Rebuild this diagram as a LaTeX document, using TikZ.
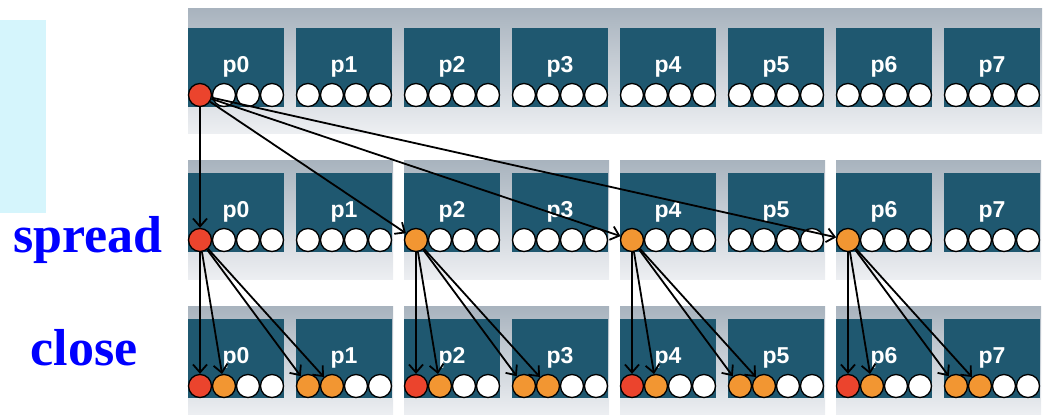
\documentclass[tikz,border=0pt]{standalone}
\usepackage{fontspec}
\setmainfont{Liberation Serif}
\newfontfamily\placefont{Liberation Sans}
\usetikzlibrary{arrows.meta}
\definecolor{corebox}{RGB}{31,88,112}
\definecolor{bandtop}{RGB}{168,179,190}
\definecolor{bandbot}{RGB}{237,239,242}
\definecolor{thrred}{RGB}{235,68,45}
\definecolor{throrange}{RGB}{242,150,50}
\definecolor{panelcyan}{RGB}{213,245,252}
\definecolor{policyblue}{RGB}{0,0,255}

\tikzset{
  band/.style={top color=bandtop, bottom color=bandbot},
  slot/.style={circle, draw=black, line width=1.3pt, fill=white,
    minimum size=23pt, inner sep=0pt},
  placelabel/.style={text=white, anchor=base,
    font=\placefont\bfseries\fontsize{23}{23}\selectfont},
  policy/.style={text=policyblue, anchor=base, inner sep=0pt,
    font=\bfseries\fontsize{52}{52}\selectfont},
  bind/.style={-{Straight Barb[length=8pt,width=14pt]}, line width=1.8pt},
  % master thread (red) and the threads it places (orange)
  master/.style={fill=thrred},
  worker/.style={fill=throrange},
  s1-0-0/.style={master},
  s2-0-0/.style={master}, s2-2-0/.style={worker},
  s2-4-0/.style={worker}, s2-6-0/.style={worker},
  s3-0-0/.style={master}, s3-2-0/.style={master},
  s3-4-0/.style={master}, s3-6-0/.style={master},
  s3-0-1/.style={worker}, s3-2-1/.style={worker},
  s3-4-1/.style={worker}, s3-6-1/.style={worker},
  s3-1-0/.style={worker}, s3-3-0/.style={worker},
  s3-5-0/.style={worker}, s3-7-0/.style={worker},
  s3-1-1/.style={worker}, s3-3-1/.style={worker},
  s3-5-1/.style={worker}, s3-7-1/.style={worker},
}

\begin{document}
\begin{tikzpicture}[x=1pt, y=-1pt]
  \useasboundingbox (0,0) rectangle (1047,415);

  % --- light panel on the left ---
  \fill[panelcyan] (0,20) rectangle (46,213);

  % --- grey bands: one across the top row, one per pair below ---
  \shade[band] (188,8) rectangle (1042,133);
  \foreach \k in {0,...,3} {
    \shade[band] (188+216*\k,160) rectangle ++(205,119);
    \shade[band] (188+216*\k,306) rectangle ++(205,109);
  }

  % --- places p0..p7 with their four hardware threads, three rows ---
  \foreach \r/\ry in {1/28, 2/173, 3/319} {
    \foreach \p in {0,...,7} {
      \fill[corebox] (188+108*\p,\ry) rectangle ++(96,79);
      \node[placelabel] (l\r-\p) at (236+108*\p,\ry+44) {p\p};
      \foreach \c in {0,...,3}
        \node[slot, s\r-\p-\c/.try] (s\r-\p-\c) at (200+108*\p+24*\c,\ry+67) {};
    }
  }

  % --- policy names ---
  \node[policy] (spread) at (88,252) {spread};
  \node[policy] (close) at (84,365) {close};

  % === spread: master binds to the first thread of every other place ===
  \foreach \p in {0,2,4,6}
    \draw[bind] (s1-0-0) -- (s2-\p-0);

  % === close: each one fills its own place and the next one ===
  \foreach \p in {0,2,4,6} {
    \pgfmathtruncatemacro\q{\p+1}
    \draw[bind] (s2-\p-0) -- (s3-\p-0);
    \draw[bind] (s2-\p-0) -- (s3-\p-1);
    \draw[bind] (s2-\p-0) -- (s3-\q-0);
    \draw[bind] (s2-\p-0) -- (s3-\q-1);
  }
\end{tikzpicture}
\end{document}
